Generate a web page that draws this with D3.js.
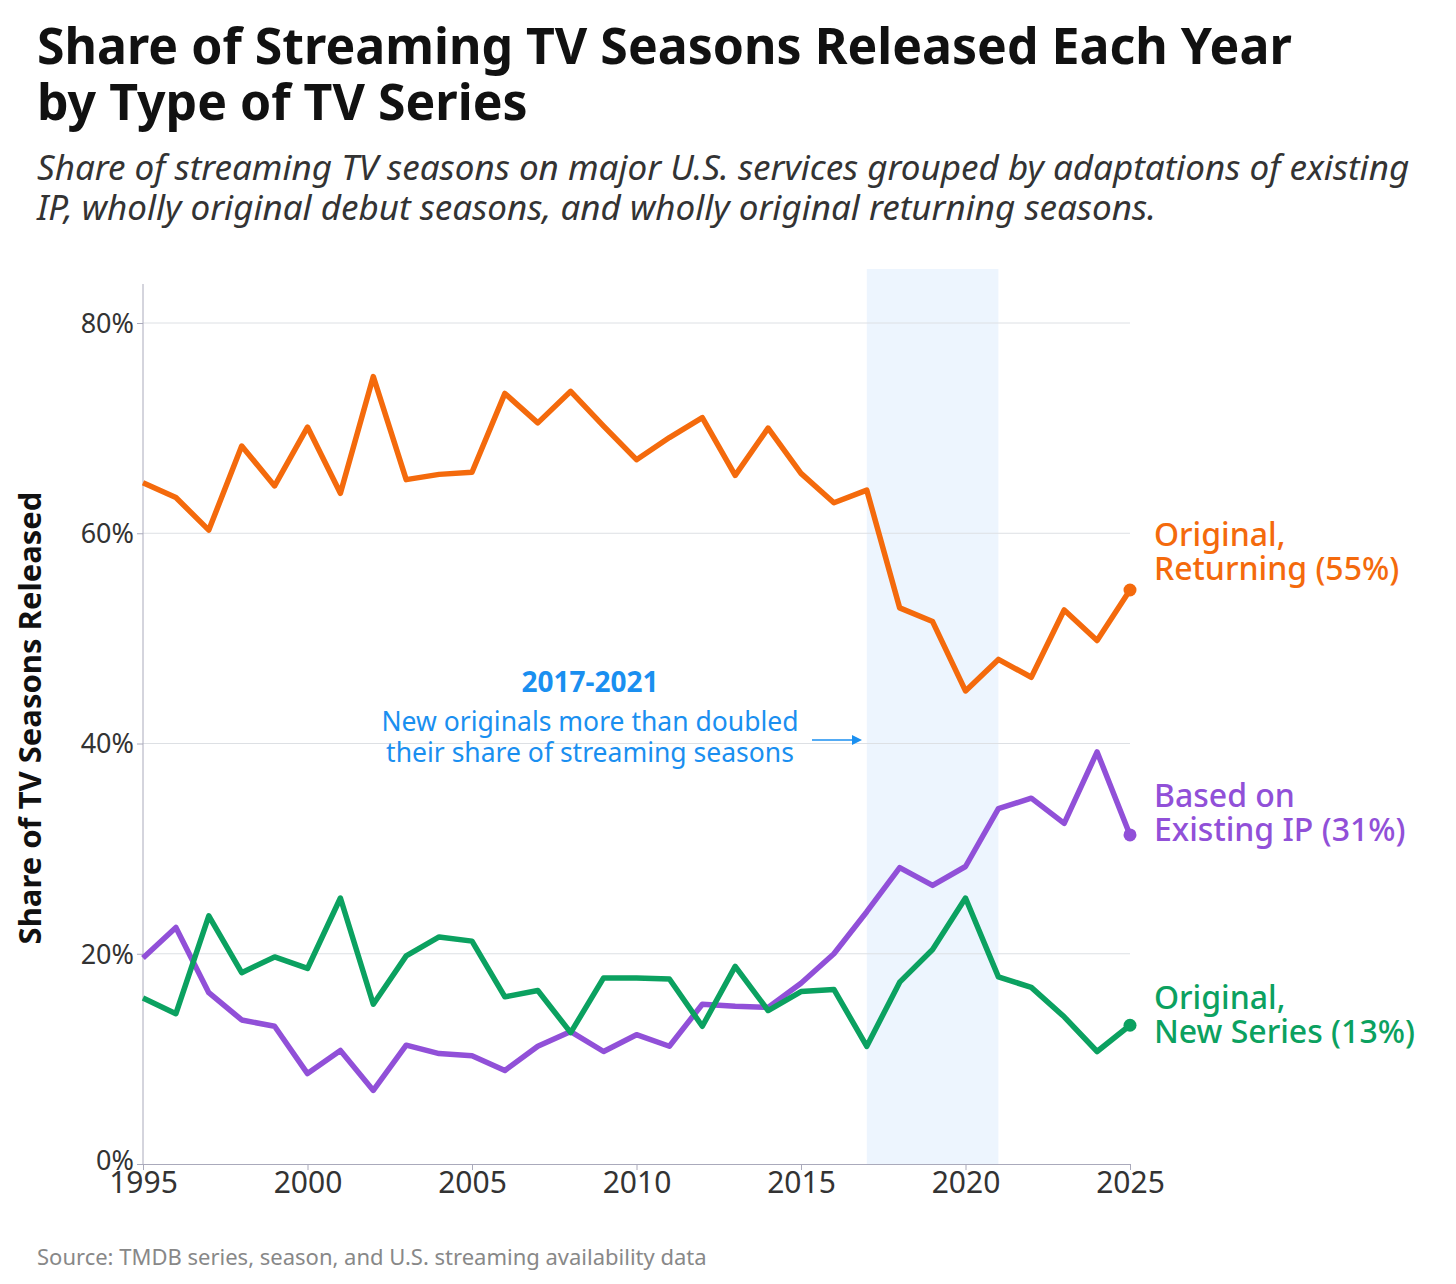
<!DOCTYPE html>
<html>
<head>
<meta charset="utf-8">
<script src="https://cdn.jsdelivr.net/npm/d3@7"></script>
<style>
body { margin: 0; background: #fff; font-family: "Noto Sans", "Open Sans", sans-serif; }
</style>
</head>
<body>
<svg id="chart" width="1456" height="1284"></svg>
<script>
var years = d3.range(1995, 2026);
var returning = [64.8,63.4,60.3,68.3,64.5,70.1,63.8,74.9,65.1,65.6,65.8,73.3,70.5,73.5,70.2,67.0,69.1,71.0,65.5,70.0,65.7,62.9,64.1,52.9,51.6,45.0,48.0,46.3,52.7,49.8,54.6];
var existingIP = [19.6,22.5,16.3,13.7,13.1,8.6,10.8,7.0,11.3,10.5,10.3,8.9,11.2,12.6,10.7,12.3,11.2,15.2,15.0,14.9,17.2,20.0,24.0,28.2,26.5,28.3,33.8,34.8,32.4,39.2,31.3];
var newSeries = [15.8,14.3,23.6,18.2,19.7,18.6,25.3,15.2,19.8,21.6,21.2,15.9,16.5,12.5,17.7,17.7,17.6,13.1,18.8,14.6,16.4,16.6,11.2,17.3,20.4,25.3,17.8,16.8,14.0,10.7,13.2];
var yTicks = [0, 20, 40, 60, 80];
var xTicks = [1995, 2000, 2005, 2010, 2015, 2020, 2025];

var series = [
  { values: returning, color: "#f46a0c", label: ["Original,", "Returning (55%)"], ly: 535 },
  { values: existingIP, color: "#9150d8", label: ["Based on", "Existing IP (31%)"], ly: 796 },
  { values: newSeries, color: "#0ba160", label: ["Original,", "New Series (13%)"], ly: 998 }
];

var svg = d3.select("#chart");
var x = d3.scaleLinear().domain([1995, 2025]).range([143, 1130]);
var y = d3.scaleLinear().domain([0, 80]).range([1164, 323]);

// titles
svg.append("text").attr("x", 37).attr("y", 64).attr("font-size", 50).attr("font-weight", 700).attr("fill", "#111")
  .text("Share of Streaming TV Seasons Released Each Year");
svg.append("text").attr("x", 37).attr("y", 120).attr("font-size", 50).attr("font-weight", 700).attr("fill", "#111")
  .text("by Type of TV Series");
svg.append("text").attr("x", 37).attr("y", 180).attr("font-size", 35).attr("font-style", "italic").attr("fill", "#333")
  .text("Share of streaming TV seasons on major U.S. services grouped by adaptations of existing");
svg.append("text").attr("x", 37).attr("y", 220).attr("font-size", 35).attr("font-style", "italic").attr("fill", "#333")
  .text("IP, wholly original debut seasons, and wholly original returning seasons.");

// highlight band
svg.append("rect").attr("x", x(2017)).attr("y", 269).attr("width", x(2021) - x(2017)).attr("height", y(0) - 269)
  .attr("fill", "#edf5fe");

// gridlines
svg.selectAll(".grid").data(yTicks.filter(d => d > 0)).enter().append("line")
  .attr("x1", x(1995)).attr("x2", x(2025)).attr("y1", d => y(d)).attr("y2", d => y(d))
  .attr("stroke", "#dde0e4").attr("stroke-width", 1);

// axes
var yAxis = svg.append("g").attr("transform", "translate(143,0)")
  .call(d3.axisLeft(y).tickValues(yTicks).tickFormat(d => d + "%").tickSize(6));
yAxis.select(".domain").attr("d", "M0," + 284 + "V" + y(0)).attr("stroke", "#aab");
yAxis.selectAll("line").attr("stroke", "#aab");
yAxis.selectAll("text").attr("font-size", 27).attr("fill", "#333").attr("font-family", "Noto Sans").attr("dy", "0.35em")
  .attr("y", d => d === 0 ? -4 : 0);

var xAxis = svg.append("g").attr("transform", "translate(0," + y(0) + ")")
  .call(d3.axisBottom(x).tickValues(xTicks).tickFormat(d3.format("d")).tickSize(6));
xAxis.select(".domain").attr("stroke", "#aab");
xAxis.selectAll("line").attr("stroke", "#aab");
xAxis.selectAll("text").attr("font-size", 30).attr("fill", "#333").attr("font-family", "Noto Sans").attr("dy", "0.8em")
  .attr("y", 5);

svg.append("text").attr("transform", "translate(41,718) rotate(-90)").attr("text-anchor", "middle")
  .attr("font-size", 31).attr("font-weight", 700).attr("fill", "#111").text("Share of TV Seasons Released");

// lines
var line = d3.line().x((d, i) => x(years[i])).y(d => y(d));
series.forEach(function (s) {
  svg.append("path").datum(s.values).attr("d", line).attr("fill", "none")
    .attr("stroke", s.color).attr("stroke-width", 5.5).attr("stroke-linejoin", "round");
  var last = s.values[s.values.length - 1];
  svg.append("circle").attr("cx", x(2025)).attr("cy", y(last)).attr("r", 6.5).attr("fill", s.color);
  s.label.forEach(function (t, i) {
    svg.append("text").attr("x", 1154).attr("y", s.ly + i * 34).attr("dy", "0.35em")
      .attr("font-size", 32).attr("font-weight", 500).attr("fill", s.color).text(t);
  });
});

// annotation
var blue = "#1a8ff0";
svg.append("text").attr("x", 590).attr("y", 692).attr("text-anchor", "middle").attr("font-size", 28)
  .attr("font-weight", 700).attr("fill", blue).text("2017-2021");
svg.append("text").attr("x", 590).attr("y", 731).attr("text-anchor", "middle").attr("font-size", 26.5)
  .attr("fill", blue).text("New originals more than doubled");
svg.append("text").attr("x", 590).attr("y", 762).attr("text-anchor", "middle").attr("font-size", 26.5)
  .attr("fill", blue).text("their share of streaming seasons");
svg.append("line").attr("x1", 812).attr("x2", 856).attr("y1", 740).attr("y2", 740).attr("stroke", blue).attr("stroke-width", 1.5);
svg.append("path").attr("d", "M862,740 L852,735 L852,745 Z").attr("fill", blue);

svg.append("text").attr("x", 37).attr("y", 1265).attr("font-size", 22).attr("fill", "#888")
  .text("Source: TMDB series, season, and U.S. streaming availability data");
</script>
</body>
</html>
